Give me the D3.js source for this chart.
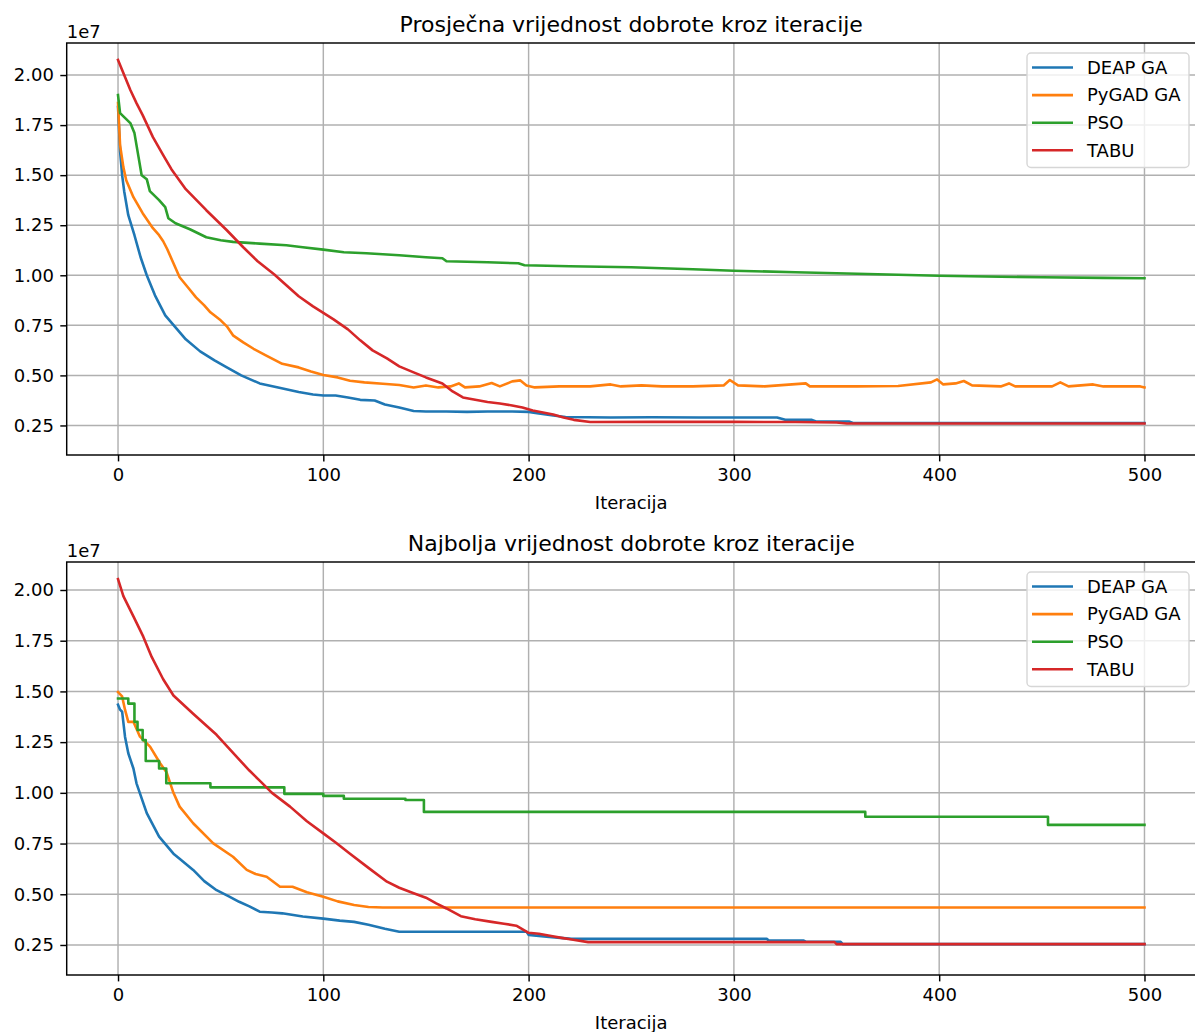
<!DOCTYPE html>
<html>
<head>
<meta charset="utf-8">
<script src="https://cdn.jsdelivr.net/npm/d3@7"></script>
<style>
  body { margin: 0; background: #fff; }
  svg { display: block; font-family: "DejaVu Sans", sans-serif; }
</style>
</head>
<body>
<div id="chart"></div>
<script>
// values are in units of 1e7 (matplotlib offset text), pairs are [iteration, value]
const seriesNames = ["DEAP GA", "PyGAD GA", "PSO", "TABU"];
const seriesColors = ["#1f77b4", "#ff7f0e", "#2ca02c", "#d62728"];
const xTicks = [0, 100, 200, 300, 400, 500];
const yTicks = [0.25, 0.50, 0.75, 1.00, 1.25, 1.50, 1.75, 2.00];

const avgDeap = [[0,1.84],[1,1.62],[2,1.50],[3,1.42],[5,1.30],[8,1.20],[11,1.09],[14,1.00],[18,0.90],[23,0.80],[28,0.74],[33,0.68],[40,0.62],[47,0.575],[53,0.54],[60,0.50],[69,0.46],[78,0.44],[88,0.417],[95,0.405],[100,0.40],[106,0.40],[112,0.39],[118,0.378],[125,0.375],[130,0.355],[137,0.34],[144,0.322],[150,0.32],[160,0.32],[170,0.318],[180,0.32],[192,0.32],[200,0.318],[205,0.31],[212,0.30],[218,0.292],[240,0.29],[260,0.291],[283,0.29],[300,0.29],[321,0.29],[325,0.278],[338,0.278],[340,0.27],[356,0.27],[358,0.262],[400,0.262],[450,0.262],[500,0.262]];
const avgPygad = [[0,1.86],[1,1.65],[2.6,1.54],[4,1.475],[7.5,1.39],[12,1.31],[17,1.235],[20,1.20],[22,1.17],[24,1.13],[27,1.06],[30,0.99],[34,0.94],[38,0.89],[42,0.85],[45,0.815],[50,0.775],[53,0.745],[56,0.70],[61,0.665],[66,0.633],[72,0.60],[80,0.558],[88,0.54],[94,0.52],[100,0.502],[107,0.49],[113,0.473],[120,0.465],[129,0.458],[137,0.452],[144,0.44],[150,0.45],[156,0.44],[162,0.445],[166,0.46],[169,0.44],[176,0.445],[182,0.462],[186,0.445],[192,0.47],[196,0.475],[199,0.45],[203,0.44],[215,0.445],[230,0.445],[240,0.455],[245,0.445],[255,0.45],[265,0.445],[280,0.445],[295,0.45],[298,0.477],[302,0.45],[315,0.445],[335,0.46],[337,0.445],[360,0.445],[380,0.447],[396,0.465],[399,0.48],[402,0.455],[408,0.46],[412,0.472],[416,0.45],[430,0.445],[434,0.46],[437,0.445],[455,0.445],[459,0.465],[463,0.445],[475,0.455],[480,0.445],[498,0.445],[500,0.44]];
const avgPso = [[0,1.90],[1,1.81],[4,1.78],[6,1.76],[8,1.71],[10,1.59],[11.5,1.50],[14,1.48],[15.5,1.42],[20,1.375],[23,1.34],[24.5,1.285],[28,1.26],[35,1.23],[43,1.19],[50,1.175],[56,1.167],[69,1.158],[82,1.15],[90,1.14],[100,1.128],[110,1.115],[121,1.11],[137,1.10],[150,1.09],[158,1.085],[160,1.07],[180,1.065],[195,1.06],[198,1.05],[220,1.045],[250,1.04],[280,1.03],[300,1.023],[330,1.015],[350,1.01],[380,1.003],[400,0.998],[430,0.993],[450,0.99],[480,0.987],[500,0.985]];
const avgTabu = [[0,2.075],[3,2.0],[6,1.925],[9,1.86],[12,1.80],[17,1.69],[22,1.60],[26,1.53],[33,1.43],[43,1.325],[53,1.225],[61,1.14],[68,1.07],[76,1.005],[82,0.95],[88,0.895],[95,0.845],[100,0.812],[105,0.78],[112,0.73],[118,0.675],[124,0.625],[131,0.585],[137,0.545],[144,0.515],[150,0.49],[158,0.46],[163,0.42],[168,0.39],[174,0.378],[180,0.367],[186,0.36],[192,0.35],[197,0.34],[202,0.325],[207,0.315],[212,0.305],[217,0.29],[222,0.278],[230,0.267],[260,0.268],[300,0.268],[330,0.267],[350,0.265],[355,0.26],[400,0.26],[450,0.26],[500,0.26]];

const bestDeap = [[0,1.434],[1,1.41],[2,1.40],[3.4,1.277],[5,1.195],[7.5,1.12],[9,1.047],[14,0.90],[20,0.784],[27,0.70],[30,0.675],[36.6,0.62],[42,0.565],[48,0.52],[54,0.49],[59,0.463],[64,0.44],[69,0.414],[75,0.41],[80,0.406],[90,0.39],[100,0.38],[108,0.37],[115,0.364],[122,0.35],[130,0.33],[137,0.315],[150,0.315],[199,0.315],[200,0.30],[210,0.29],[221,0.28],[316,0.28],[317,0.272],[334,0.272],[335,0.266],[352,0.266],[353,0.254],[500,0.254]];
const bestPygad = [[0,1.497],[2,1.475],[3.4,1.41],[5,1.35],[7.5,1.35],[10.7,1.277],[15.6,1.228],[20.5,1.146],[23.7,1.10],[27,1.00],[30,0.932],[36.6,0.85],[46.4,0.751],[56,0.685],[62.7,0.62],[67,0.60],[72.4,0.586],[78.9,0.537],[85,0.537],[92,0.51],[100,0.488],[107,0.465],[115,0.447],[122,0.437],[129,0.435],[500,0.435]];
// PSO best is a staircase: each pair is the value from that iteration on
const bestPso = [[0,1.465],[5,1.44],[8,1.35],[9.5,1.31],[12,1.26],[13.5,1.157],[20,1.12],[23.5,1.047],[45,1.027],[81,0.995],[100,0.985],[110,0.971],[140,0.965],[149,0.906],[364,0.882],[453,0.842],[500,0.842]];
const bestTabu = [[0,2.054],[2.6,1.97],[7.5,1.87],[12.3,1.77],[16.4,1.67],[22,1.56],[27,1.48],[36.6,1.39],[48,1.286],[59.4,1.16],[64,1.11],[69,1.06],[75,1.0],[83.8,0.932],[92,0.86],[100,0.80],[106,0.755],[113,0.70],[122,0.63],[131,0.562],[137,0.532],[144,0.505],[150,0.483],[155,0.455],[160,0.43],[167,0.392],[174,0.377],[182,0.364],[188,0.355],[194,0.345],[200,0.31],[205,0.305],[211,0.294],[216,0.285],[221,0.277],[229,0.264],[349,0.264],[350,0.254],[500,0.254]];

const W = 1195, H = 1032;
const svg = d3.select("#chart").append("svg").attr("width", W).attr("height", H);

const x = d3.scaleLinear().domain([-25, 525]).range([66.7, 1195.8]);

function drawPanel(cfg) {
    const y = d3.scaleLinear().domain(cfg.yDomain).range([cfg.bottom, cfg.top]);
    const left = x.range()[0], right = x.range()[1];
    const g = svg.append("g");
    const clipId = "clip-" + cfg.id;

    g.append("clipPath").attr("id", clipId)
        .append("rect").attr("x", left).attr("y", cfg.top)
        .attr("width", right - left).attr("height", cfg.bottom - cfg.top);

    // grid
    g.append("g").selectAll("line").data(xTicks).enter().append("line")
        .attr("x1", d => x(d)).attr("x2", d => x(d))
        .attr("y1", cfg.top).attr("y2", cfg.bottom)
        .attr("stroke", "#b0b0b0").attr("stroke-width", 1.45);
    g.append("g").selectAll("line").data(yTicks).enter().append("line")
        .attr("x1", left).attr("x2", right)
        .attr("y1", d => y(d)).attr("y2", d => y(d))
        .attr("stroke", "#b0b0b0").attr("stroke-width", 1.45);

    // lines
    const lines = g.append("g").attr("clip-path", `url(#${clipId})`);
    cfg.series.forEach((s, i) => {
        const line = d3.line().x(d => x(d[0])).y(d => y(d[1]))
            .curve(cfg.stepped[i] ? d3.curveStepAfter : d3.curveLinear);
        lines.append("path").datum(s)
            .attr("fill", "none").attr("stroke", seriesColors[i])
            .attr("stroke-width", 2.6).attr("stroke-linejoin", "round")
            .attr("stroke-linecap", "square")
            .attr("d", line);
    });

    // axes
    const xAxis = g.append("g").attr("transform", `translate(0,${cfg.bottom})`)
        .call(d3.axisBottom(x).tickValues(xTicks).tickSize(6.4).tickPadding(6.4).tickFormat(d3.format("d")));
    const yAxis = g.append("g").attr("transform", `translate(${left},0)`)
        .call(d3.axisLeft(y).tickValues(yTicks).tickSize(6.4).tickPadding(6.4).tickFormat(d3.format(".2f")));
    [xAxis, yAxis].forEach(a => {
        a.select(".domain").remove();
        a.selectAll(".tick line").attr("stroke", "#000").attr("stroke-width", 1.45);
        a.selectAll(".tick text").attr("fill", "#000").style("font-size", "18px")
            .style("font-family", "DejaVu Sans");
    });

    // spines
    g.append("rect").attr("x", left).attr("y", cfg.top)
        .attr("width", right - left).attr("height", cfg.bottom - cfg.top)
        .attr("fill", "none").attr("stroke", "#000").attr("stroke-width", 1.45);

    // texts
    g.append("text").attr("x", (left + right) / 2).attr("y", cfg.top - 11)
        .attr("text-anchor", "middle").style("font-size", "22px").text(cfg.title);
    g.append("text").attr("x", left).attr("y", cfg.top - 5)
        .style("font-size", "18px").text("1e7");
    g.append("text").attr("x", (left + right) / 2).attr("y", cfg.bottom + 54)
        .attr("text-anchor", "middle").style("font-size", "18px").text("Iteracija");

    // legend
    const lx = 1027, ly = cfg.top + 10, lw = 162, lh = 114.5;
    const leg = g.append("g");
    leg.append("rect").attr("x", lx).attr("y", ly).attr("width", lw).attr("height", lh)
        .attr("rx", 4).attr("fill", "#fff").attr("fill-opacity", 0.8)
        .attr("stroke", "#d6d6d6").attr("stroke-width", 1.4);
    const items = leg.selectAll(".legend-item").data(seriesNames).enter()
        .append("g").attr("class", "legend-item")
        .attr("transform", (d, i) => `translate(0,${ly + 14.5 + i * 27.6})`);
    items.append("line").attr("x1", lx + 5).attr("x2", lx + 46)
        .attr("stroke", (d, i) => seriesColors[i]).attr("stroke-width", 2.6);
    items.append("text").attr("x", lx + 60).attr("dy", "0.35em")
        .style("font-size", "18px").text(d => d);
}

drawPanel({
    id: "avg", top: 43, bottom: 455, yDomain: [0.1025, 2.16],
    title: "Prosječna vrijednost dobrote kroz iteracije",
    series: [avgDeap, avgPygad, avgPso, avgTabu],
    stepped: [false, false, false, false]
});

drawPanel({
    id: "best", top: 562, bottom: 975, yDomain: [0.102, 2.138],
    title: "Najbolja vrijednost dobrote kroz iteracije",
    series: [bestDeap, bestPygad, bestPso, bestTabu],
    stepped: [false, false, true, false]
});
</script>
</body>
</html>
